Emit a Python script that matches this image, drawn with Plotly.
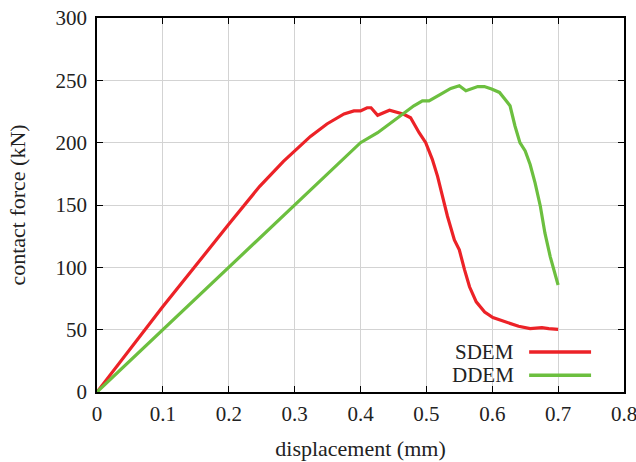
import plotly.graph_objects as go

sdem_x = [0, 0.1, 0.2, 0.247, 0.283, 0.3, 0.324, 0.349, 0.375, 0.39, 0.4, 0.41, 0.416, 0.426,
          0.444, 0.4657, 0.476, 0.489, 0.499, 0.509, 0.517, 0.5245, 0.532, 0.5425, 0.55, 0.558,
          0.5655, 0.5757, 0.5885, 0.601, 0.619, 0.64, 0.6575, 0.6754, 0.6857, 0.7]
sdem_y = [0, 68.5, 134.5, 165, 185, 193, 205, 215, 223, 225.5, 225.5, 228, 228, 222,
          226, 222.8, 220, 208, 200, 186.6, 173, 157, 141, 122, 114, 98,
          84.4, 72.3, 64.2, 59.7, 56.2, 52.7, 50.8, 51.6, 50.8, 50.3]

ddem_x = [0, 0.1, 0.2, 0.3, 0.4, 0.426, 0.462, 0.481, 0.494, 0.504, 0.522, 0.537, 0.55, 0.56,
          0.578, 0.588, 0.599, 0.611, 0.619, 0.627, 0.6345, 0.642, 0.65, 0.6575, 0.665, 0.673,
          0.68, 0.688, 0.7]
ddem_y = [0, 50, 100, 150, 200, 208, 222, 229.6, 233.6, 233.6, 239, 243.5, 245.7, 241.7,
          245, 245, 243, 240.3, 235, 229.6, 213.4, 200, 193.3, 182.5, 167.7, 149,
          127.4, 108.6, 85.8]

series_names = ["SDEM", "DDEM"]
colors = ["#ec2227", "#6cbf3f"]
x_ticks = [0, 0.1, 0.2, 0.3, 0.4, 0.5, 0.6, 0.7, 0.8]
x_tick_labels = ["0", "0.1", "0.2", "0.3", "0.4", "0.5", "0.6", "0.7", "0.8"]
y_ticks = [0, 50, 100, 150, 200, 250, 300]

FONT = "Liberation Serif"
FS = 21

fig = go.Figure()
for name, xs, ys, c in zip(series_names, [sdem_x, ddem_x], [sdem_y, ddem_y], colors):
    fig.add_trace(go.Scatter(x=xs, y=ys, mode="lines", name=name,
                             line=dict(color=c, width=3.2), showlegend=False))

# custom legend (text left, line sample right, as in the reference)
leg_y = [0.107, 0.045]
for name, c, yy in zip(series_names, colors, leg_y):
    fig.add_annotation(xref="paper", yref="paper", x=0.795, y=yy, text=name,
                       showarrow=False, xanchor="right", yanchor="middle",
                       font=dict(family=FONT, size=FS, color="#222"))
    fig.add_shape(type="line", xref="paper", yref="paper", x0=0.82, x1=0.9375,
                  y0=yy, y1=yy, line=dict(color=c, width=3.5))

axis_common = dict(showline=True, linecolor="black", linewidth=1.5, mirror="ticks",
                   ticks="inside", ticklen=6, tickcolor="black", tickwidth=1,
                   showgrid=True, gridcolor="#d3d3d3", gridwidth=1, zeroline=False,
                   automargin=False, ticklabeloverflow="allow",
                   tickfont=dict(family=FONT, size=FS, color="#222"))

fig.update_xaxes(range=[0, 0.8], tickvals=x_ticks, ticktext=x_tick_labels,
                 ticklabelstandoff=2,
                 title=dict(text="displacement (mm)", font=dict(family=FONT, size=22, color="#222"),
                            standoff=16), **axis_common)
fig.update_yaxes(range=[0, 300], tickvals=y_ticks, ticklabelstandoff=4,
                 title=dict(text="contact force (kN)", font=dict(family=FONT, size=22, color="#222"),
                            standoff=24), **axis_common)

fig.update_layout(width=636, height=462, plot_bgcolor="white", paper_bgcolor="white",
                  margin=dict(l=97, r=12, t=18, b=70))

# remove the browser's default page margin so the figure fills the window exactly
fig.write_html("out.html", config={"displayModeBar": False},
               post_script="document.body.style.margin='0';")
